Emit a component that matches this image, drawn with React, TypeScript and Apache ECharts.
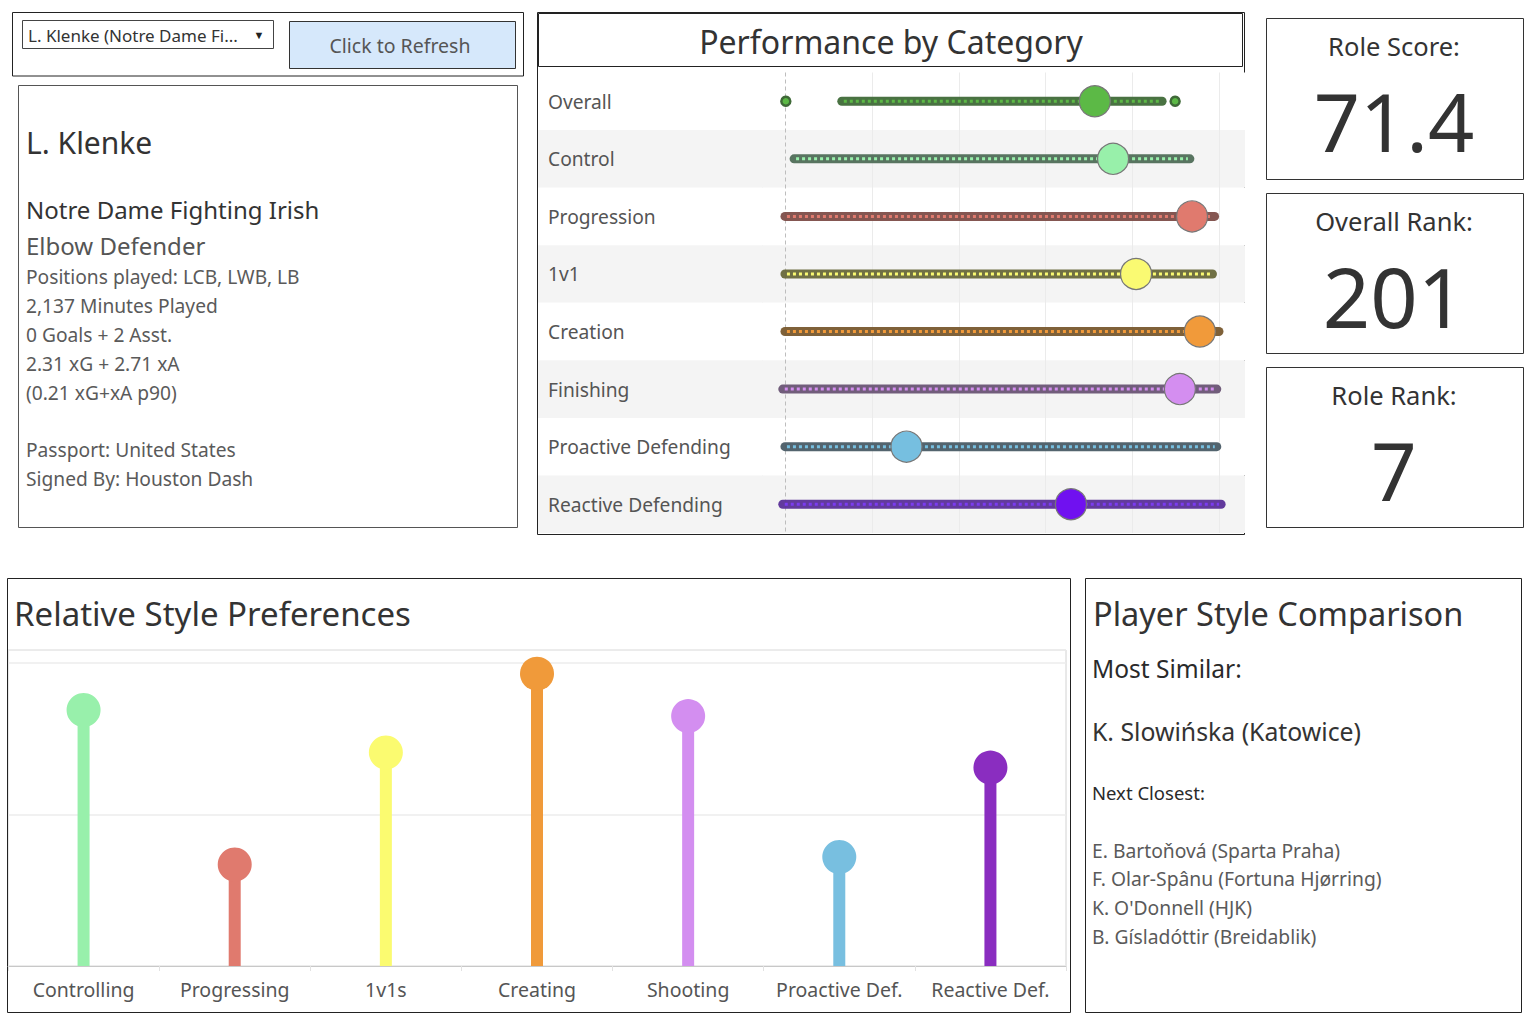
import React, { useEffect, useRef } from "react";
import * as echarts from "echarts";

// ---------- data ----------
const perfCategories = ["Overall", "Control", "Progression", "1v1", "Creation", "Finishing", "Proactive Defending", "Reactive Defending"];
const perfPlayer = [71.4, 75.6, 93.8, 80.9, 95.6, 91.0, 28.0, 65.9];
const perfRangeMin = [13.1, 2.1, 0, 0, 0, -0.5, 0, -0.5];
const perfRangeMax = [86.9, 93.3, 99, 98.5, 100, 99.5, 99.5, 100.5];
const overallOutliers = [0.2, 89.9];
const perfTicks = [0, 20, 40, 60, 80, 100];
const perfColors = ["#5cb946", "#98f0aa", "#e07a6e", "#fafa72", "#f19a3a", "#d48ef0", "#76bfe0", "#7011f0"];
const perfLineColors = ["#3f6a38", "#4f6d57", "#7d4d48", "#68683a", "#78582e", "#695474", "#4a5c66", "#5a2f98"];
const perfDotColors = ["#5cb946", "#98f0aa", "#e07a6e", "#fafa72", "#f19a3a", "#d48ef0", "#76bfe0", "#7b3cf0"];

const styleCategories = ["Controlling", "Progressing", "1v1s", "Creating", "Shooting", "Proactive Def.", "Reactive Def."];
const styleValues = [1.69, 0.67, 1.41, 1.93, 1.65, 0.72, 1.31];
const styleColors = ["#98f0ab", "#e07a6e", "#fbfb70", "#f09a3a", "#d38ef0", "#78bfe0", "#8a2dc0"];

const playerName = "L. Klenke";
const dropdownText = "L. Klenke (Notre Dame Fi...";
const teamName = "Notre Dame Fighting Irish";
const roleName = "Elbow Defender";
const infoLines = ["Positions played: LCB, LWB, LB", "2,137 Minutes Played", "0 Goals + 2 Asst.", "2.31 xG + 2.71 xA", "(0.21 xG+xA p90)"];
const bioLines = ["Passport: United States", "Signed By: Houston Dash"];
const kpiTitles = ["Role Score:", "Overall Rank:", "Role Rank:"];
const kpiValues = ["71.4", "201", "7"];
const mostSimilar = "K. Slowińska (Katowice)";
const nextClosest = ["E. Bartoňová (Sparta Praha)", "F. Olar-Spânu (Fortuna Hjørring)", "K. O'Donnell (HJK)", "B. Gísladóttir (Breidablik)"];

const FONT = "'Noto Sans', sans-serif";

function txt(text: string, x: number, y: number, size: number, fill: string, align = "left", weight: any = "normal") {
  return {
    type: "text",
    silent: true,
    style: { text, x, y, fontSize: size, fontFamily: FONT, fill, align, verticalAlign: "middle", fontWeight: weight },
  };
}
function box(x: number, y: number, w: number, h: number, stroke = "#222", fill = "none", lw = 1) {
  return { type: "rect", silent: true, shape: { x, y, width: w, height: h }, style: { fill, stroke, lineWidth: lw } };
}

export default function App() {
  const ref = useRef<HTMLDivElement>(null);
  useEffect(() => {
    if (!ref.current) return;
    const chart = echarts.init(ref.current, undefined, { renderer: "svg" });

    const graphics: any[] = [
      // top-left controls
      box(12.5, 12.5, 511, 63.5),
      box(22.5, 20.5, 251, 28, "#444"),
      txt(dropdownText, 28, 35, 17, "#333"),
      txt("▼", 259, 34, 11, "#222", "center"),
      box(289.5, 21.5, 226, 47, "#333", "#d6e8fb"),
      txt("Click to Refresh", 400, 45, 19.5, "#555", "center"),
      // player info
      box(18.5, 85.5, 499, 442, "#555"),
      txt(playerName, 26, 142, 30, "#333"),
      txt(teamName, 26, 209, 24, "#333"),
      txt(roleName, 26, 245, 24, "#555"),
      ...infoLines.map((l, i) => txt(l, 26, 276 + i * 29, 19.2, "#5a5a5a")),
      ...bioLines.map((l, i) => txt(l, 26, 449 + i * 29, 19.2, "#5a5a5a")),
      // performance panel
      box(537.5, 12.5, 707, 522),
      box(538.5, 13.5, 704, 53, "#222"),
      txt("Performance by Category", 891, 41, 32, "#333", "center"),
      { type: "line", silent: true, z: -1, shape: { x1: 762.5, y1: 73, x2: 762.5, y2: 533 }, style: { stroke: "#ececec", lineWidth: 1 } },
      // KPI boxes
      ...kpiTitles.flatMap((t, i) => {
        const ys = [18.5, 193.5, 367.5][i];
        const hs = [161, 160, 160][i];
        const sizes = [81, 83, 80];
        return [
          box(1266.5, ys, 257, hs, "#333"),
          txt(t, 1394, ys + 27, 25.5, "#333", "center"),
          txt(kpiValues[i], 1394, ys + 102, sizes[i], "#333", "center"),
        ];
      }),
      // style prefs panel
      box(7.5, 578.5, 1063, 434),
      txt("Relative Style Preferences", 14, 613, 33, "#333"),
      // comparison panel
      box(1085.5, 578.5, 436, 434),
      txt("Player Style Comparison", 1093, 613, 32.5, "#333"),
      txt("Most Similar:", 1092, 668, 24.5, "#2a2a2a"),
      txt(mostSimilar, 1092, 731, 24.8, "#333"),
      txt("Next Closest:", 1092, 792, 18.5, "#2a2a2a"),
      ...nextClosest.map((l, i) => txt(l, 1092, 850 + i * 28.7, 19.3, "#5a5a5a")),
    ];

    const option: any = {
      animation: false,
      backgroundColor: "#fff",
      textStyle: { fontFamily: FONT },
      grid: [
        { left: 538, top: 72.5, width: 707, height: 460.5 },
        { left: 8, top: 650, width: 1058, height: 316, show: true, borderColor: "#d2d2d2", borderWidth: 1, backgroundColor: "transparent" },
      ],
      xAxis: [
        { type: "value", gridIndex: 0, min: -56.9, max: 106, show: false },
        {
          type: "category", gridIndex: 1, data: styleCategories,
          axisLine: { lineStyle: { color: "#c8c8c8" } },
          axisTick: { show: true, length: 5, interval: 0, lineStyle: { color: "#e2e2e2" } },
          axisLabel: { fontSize: 19.5, color: "#555", margin: 13, fontFamily: FONT, interval: 0 },
        },
      ],
      yAxis: [
        {
          type: "category", gridIndex: 0, data: perfCategories, inverse: true,
          axisLine: { show: false }, axisTick: { show: false },
          axisLabel: { inside: true, margin: 10, fontSize: 19.2, color: "#555", fontFamily: FONT, align: "left", interval: 0 },
          splitLine: { show: false },
          splitArea: { show: true, interval: 0, areaStyle: { color: ["#ffffff", "#f4f4f4"] } },
        },
        {
          type: "value", gridIndex: 1, min: 0, max: 2.086, interval: 1,
          axisLabel: { show: false }, axisLine: { show: false }, axisTick: { show: false },
          splitLine: { lineStyle: { color: "#ececec", width: 1.5 } },
        },
      ],
      series: [
        {
          type: "custom", xAxisIndex: 0, yAxisIndex: 0, silent: true,
          data: perfTicks.map((t) => [t, 0]),
          renderItem: (params: any, api: any) => {
            const v = api.value(0);
            const x = Math.round(api.coord([v, 0])[0]) + 0.5;
            const cs = params.coordSys;
            return {
              type: "line",
              shape: { x1: x, y1: cs.y, x2: x, y2: cs.y + cs.height },
              style: { stroke: v === 0 ? "#bdbdbd" : "#ebebeb", lineWidth: 1, lineDash: v === 0 ? [4, 3] : null },
            };
          },
        },
        {
          type: "custom", xAxisIndex: 0, yAxisIndex: 0, silent: true,
          data: perfCategories.map((_, i) => [perfRangeMin[i], perfRangeMax[i], i]),
          encode: { x: [0, 1], y: 2 },
          renderItem: (params: any, api: any) => {
            const i = api.value(2);
            const p1 = api.coord([api.value(0), i]);
            const p2 = api.coord([api.value(1), i]);
            return {
              type: "group",
              children: [
                { type: "line", shape: { x1: p1[0], y1: p1[1], x2: p2[0], y2: p2[1] }, style: { stroke: perfLineColors[i], lineWidth: 9, lineCap: "round", opacity: 0.95 } },
                { type: "line", shape: { x1: p1[0] + 2, y1: p1[1], x2: p2[0] - 2, y2: p2[1] }, style: { stroke: perfDotColors[i], lineWidth: 3, lineDash: [3, 3] } },
              ],
            };
          },
        },
        {
          type: "scatter", xAxisIndex: 0, yAxisIndex: 0, silent: true,
          data: overallOutliers.map((v) => [v, 0]),
          symbolSize: 9,
          itemStyle: { color: perfColors[0], borderColor: perfLineColors[0], borderWidth: 2.5, opacity: 1 },
        },
        {
          type: "scatter", xAxisIndex: 0, yAxisIndex: 0, silent: true, z: 5,
          data: perfPlayer.map((v, i) => ({ value: [v, i], itemStyle: { color: perfColors[i] } })),
          symbolSize: 31,
          itemStyle: { borderColor: "#777", borderWidth: 1.2, opacity: 1 },
        },
        {
          type: "bar", xAxisIndex: 1, yAxisIndex: 1, silent: true, barWidth: 12,
          data: styleValues.map((v, i) => ({ value: v, itemStyle: { color: styleColors[i] } })),
        },
        {
          type: "scatter", xAxisIndex: 1, yAxisIndex: 1, silent: true, symbolSize: 34, z: 5,
          itemStyle: { opacity: 1 },
          data: styleValues.map((v, i) => ({ value: v, itemStyle: { color: styleColors[i], opacity: 1 } })),
        },
      ],
      graphic: graphics,
    };
    chart.setOption(option);
    return () => chart.dispose();
  }, []);
  return <div ref={ref} style={{ position: "absolute", left: 0, top: 0, width: 1538, height: 1026, background: "#fff" }} />;
}
